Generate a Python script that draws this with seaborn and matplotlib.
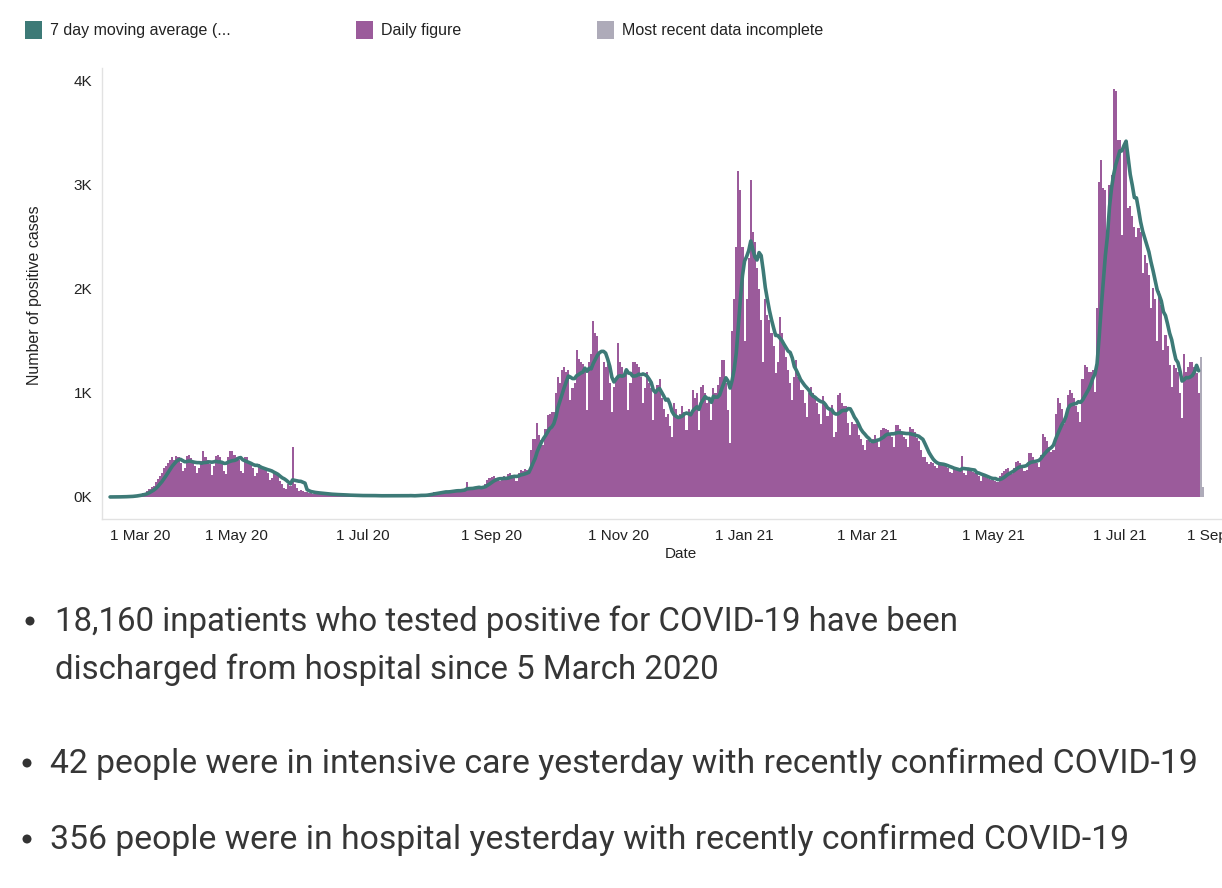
import pandas as pd
import matplotlib
matplotlib.use('Agg')
import matplotlib.pyplot as plt
import matplotlib.dates as mdates
import matplotlib.patches as mpatches
import seaborn as sns

# daily positive cases (1 Mar 2020 onwards)
mar20 = [0, 0, 1, 1, 2, 2, 3, 4, 5, 6, 8, 10, 15, 20, 25, 30, 35, 40, 60, 80,
         100, 110, 140, 170, 200, 230, 280, 300, 330, 360, 380]
apr20 = [360, 390, 380, 330, 250, 280, 390, 400, 370, 340, 300, 230, 280, 350,
         440, 380, 360, 320, 210, 300, 390, 400, 380, 330, 250, 220, 380, 440, 440, 400]
may20 = [380, 360, 250, 230, 380, 380, 340, 320, 280, 200, 230, 320, 300, 290,
         270, 230, 160, 180, 240, 230, 210, 150, 120, 90, 80, 120, 110, 480, 120, 90, 60]
jun20 = [70, 60, 50, 45, 40, 35, 30, 45, 40, 35, 30, 25, 20, 20, 30, 25, 25, 20, 20, 15,
         15, 20, 20, 15, 15, 15, 10, 10, 15, 15]
jul20 = [15, 15, 10, 10, 10, 15, 15, 10, 10, 10, 10, 15, 10, 10, 10, 10, 10, 15, 15, 10,
         10, 10, 15, 15, 10, 10, 15, 20, 20, 15, 20]
aug20 = [20, 30, 40, 50, 45, 40, 40, 50, 55, 60, 50, 55, 60, 60, 70, 65, 60, 70, 75, 140,
         80, 80, 70, 90, 90, 100, 110, 110, 120, 160, 180]
sep20 = [190, 200, 180, 170, 150, 160, 200, 190, 220, 230, 210, 180, 150, 230,
         260, 250, 270, 260, 240, 450, 560, 560, 710, 600, 550, 500, 650, 790, 800, 820]
oct20 = [820, 1000, 1150, 1100, 1220, 1250, 1200, 1220, 930, 1050, 1100, 1410, 1330, 1300,
         1280, 1200, 840, 1300, 1370, 1690, 1580, 1550, 1380, 930, 1300, 1250, 1280, 1100,
         820, 1060, 1120]
nov20 = [1480, 1300, 1250, 1150, 1200, 840, 1100, 1300, 1300, 1280, 1250, 1150, 900, 1050,
         1200, 1100, 1050, 740, 1000, 1080, 1130, 950, 850, 770, 800, 680, 580, 900, 850, 770]
dec20 = [800, 870, 820, 640, 850, 780, 1030, 950, 1000, 640, 1060, 1080, 1000, 900,
         950, 740, 1050, 1000, 1080, 1150, 1320, 1320, 1100, 840, 520, 1600, 1900, 2400,
         3130, 2950, 2400]
jan21 = [1500, 1900, 2300, 3050, 2550, 2450, 2200, 2000, 1700, 1300, 1900, 1750, 1700, 1580,
         1450, 1190, 1300, 1730, 1580, 1450, 1350, 1220, 1100, 930, 1150, 1320, 1150, 1030,
         1030, 900, 770]
feb21 = [1000, 1060, 1000, 950, 900, 800, 700, 970, 900, 780, 850, 880, 580, 620,
         980, 1000, 900, 870, 870, 710, 600, 720, 700, 700, 600, 560, 500, 450]
mar21 = [550, 580, 520, 560, 600, 560, 480, 640, 660, 650, 640, 600, 580, 480,
         690, 690, 650, 620, 580, 560, 480, 670, 650, 620, 570, 540, 450, 380, 380, 340, 320]
apr21 = [340, 330, 300, 280, 330, 320, 300, 300, 280, 240, 230, 270, 280, 260,
         250, 390, 230, 210, 260, 250, 240, 230, 220, 200, 150, 210, 200, 180, 170, 160]
may21 = [170, 150, 140, 200, 230, 250, 270, 280, 230, 220, 280, 340, 350, 330,
         300, 250, 260, 420, 420, 380, 360, 330, 290, 400, 610, 580, 540, 480, 430, 450, 800]
jun21 = [950, 900, 850, 700, 760, 980, 1030, 1000, 950, 870, 820, 720, 1130, 1270,
         1250, 1200, 1200, 1220, 1010, 1820, 3030, 3240, 2970, 2950, 2520, 3000, 3100, 3920,
         3900, 3430]
jul21 = [3430, 2520, 3360, 3390, 2780, 2800, 2700, 2600, 2500, 2590, 2550, 2150, 2330, 2250,
         2130, 1820, 2010, 1900, 1500, 1980, 1850, 1410, 1560, 1450, 1270, 1060, 1270, 1240,
         1200, 1000, 760]
aug21 = [1370, 1200, 1250, 1300, 1300, 1250, 1190, 1000]
incomplete = [1350, 100]

daily = (mar20 + apr20 + may20 + jun20 + jul20 + aug20 + sep20 + oct20 + nov20 + dec20
         + jan21 + feb21 + mar21 + apr21 + may21 + jun21 + jul21 + aug21)

df = pd.DataFrame({'date': pd.date_range('2020-03-01', periods=len(daily), freq='D'),
                   'cases': daily})
df['avg7'] = df['cases'].rolling(7, min_periods=1).mean()
df['x'] = mdates.date2num(df['date'])

inc = pd.DataFrame({'date': pd.date_range(df['date'].iloc[-1] + pd.Timedelta(days=1),
                                          periods=len(incomplete), freq='D'),
                    'cases': incomplete})
inc['x'] = mdates.date2num(inc['date'])

teal = '#3d7a77'
purple = '#9b5b9b'
grey = '#aeabb9'
ink = '#222222'

sns.set_style('white')
plt.rcParams['font.family'] = ['Liberation Sans', 'DejaVu Sans']

W, H = 1222, 888
fig = plt.figure(figsize=(W / 100, H / 100), dpi=100)
ax = fig.add_axes([102 / W, 1 - 519 / H, (1265 - 102) / W, (519 - 68) / H])

sns.barplot(data=df, x='x', y='cases', native_scale=True, color=purple, saturation=1,
            width=1, linewidth=0, errorbar=None, ax=ax)
sns.barplot(data=inc, x='x', y='cases', native_scale=True, color=grey, saturation=1,
            width=1, linewidth=0, errorbar=None, ax=ax)
sns.lineplot(data=df, x='x', y='avg7', color=teal, linewidth=2.6, ax=ax)

d0 = mdates.date2num(pd.Timestamp('2020-03-01'))
ax.set_xlim(d0 - 3.9, d0 + 557)
ax.set_ylim(-212, 4125)

ax.xaxis.set_major_locator(mdates.MonthLocator(bymonth=[1, 3, 5, 7, 9, 11]))
ax.xaxis.set_major_formatter(mdates.DateFormatter('%-d %b %y'))
ax.xaxis.set_minor_locator(mdates.MonthLocator())
ax.set_yticks([0, 1000, 2000, 3000, 4000])
ax.set_yticklabels(['0K', '1K', '2K', '3K', '4K'])

ax.tick_params(axis='both', which='both', length=4, width=1, color='#d0d0d0',
               labelsize=11, labelcolor=ink, pad=3)
ax.tick_params(axis='x', which='minor', labelbottom=False)
ax.set_xlabel('')
ax.set_ylabel('')
for side in ['top', 'right']:
    ax.spines[side].set_visible(False)
for side in ['left', 'bottom']:
    ax.spines[side].set_color('#e2e2e2')
    ax.spines[side].set_linewidth(1)

# first and last date labels sit flush with the ends of the axis
fig.canvas.draw()
for lab in ax.get_xticklabels():
    if lab.get_text() == '1 Mar 20':
        lab.set_ha('left')
    elif lab.get_text() == '1 Sep 21':
        lab.set_ha('right')

fig.text(681 / W, 1 - 554 / H, 'Date', fontsize=11, color=ink, ha='center', va='center')
fig.text(35 / W, 1 - 295 / H, 'Number of positive cases', fontsize=11.5, color=ink,
         rotation=90, ha='center', va='center')

# legend along the top
legend_items = [(25, teal, '7 day moving average (...'),
                (356, purple, 'Daily figure'),
                (597, grey, 'Most recent data incomplete')]
for left, col, label in legend_items:
    fig.add_artist(mpatches.Rectangle((left / W, 1 - 39 / H), 17 / W, 18 / H,
                                      transform=fig.transFigure, color=col, lw=0))
    fig.text((left + 25) / W, 1 - 30 / H, label, fontsize=11.5, color=ink,
             ha='left', va='center')

# bullet points under the chart
bullets = [(30, 55, 631, True, 23.8, '18,160 inpatients who tested positive for COVID-19 have been'),
           (30, 55, 679, False, 23.8, 'discharged from hospital since 5 March 2020'),
           (27, 50, 773, True, 24.3, '42 people were in intensive care yesterday with recently confirmed COVID-19'),
           (27, 50, 849, True, 24.3, '356 people were in hospital yesterday with recently confirmed COVID-19')]
for bx, tx, base, dot, size, line in bullets:
    if dot:
        fig.add_artist(mpatches.Ellipse((bx / W, 1 - (base - 10) / H), 9 / W, 9 / H,
                                        transform=fig.transFigure, color='#333333', lw=0))
    fig.text(tx / W, 1 - base / H, line, fontsize=size, family=['Roboto', 'DejaVu Sans'],
             color='#363636', ha='left', va='baseline')

fig.savefig('out.png', dpi=100)
